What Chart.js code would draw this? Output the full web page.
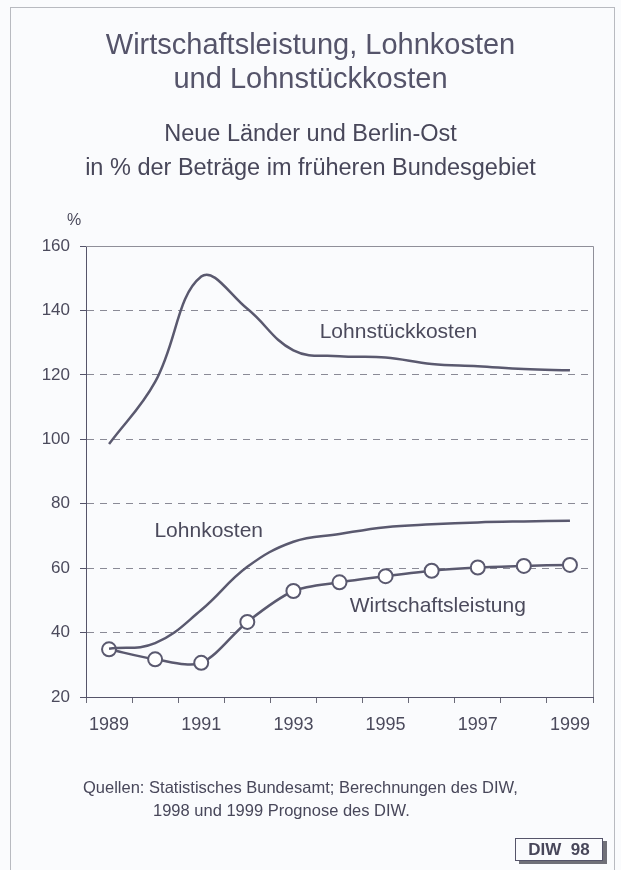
<!DOCTYPE html>
<html lang="de">
<head>
<meta charset="utf-8">
<title>Wirtschaftsleistung, Lohnkosten und Lohnstückkosten</title>
<script src="https://cdn.jsdelivr.net/npm/chart.js@4.4.1/dist/chart.umd.min.js"></script>
<style>
  html, body { margin: 0; padding: 0; background: #fafbfd; }
  body {
    width: 621px; height: 870px; position: relative; overflow: hidden;
    font-family: "Liberation Sans", Arial, sans-serif; color: #4b4a5c;
  }
  #frame { position: absolute; left: 10px; top: 7px; width: 603px; height: 900px; border: 1px solid #b8bac0; }
  #chart { position: absolute; left: 0; top: 0; }
  .t { position: absolute; left: 0; width: 621px; text-align: center; white-space: nowrap; }
  #title { top: 27px; font-size: 29px; line-height: 34px; color: #55546a; }
  #subtitle { top: 116px; font-size: 23.5px; line-height: 34px; color: #48475a; }
  .src { position: absolute; font-size: 16.5px; line-height: 22px; white-space: nowrap; color: #48475a; }
  #diw {
    position: absolute; left: 515px; top: 838px; width: 86px; height: 21px;
    border: 1px solid #55546a; background: #fafbfd; box-shadow: 4px 3px 0 #707078;
    font-weight: bold; font-size: 17px; line-height: 21px; text-align: center; color: #48475a;
  }
</style>
</head>
<body>
<div id="frame"></div>
<canvas id="chart" width="621" height="870"></canvas>
<div class="t" id="title">Wirtschaftsleistung, Lohnkosten<br>und Lohnstückkosten</div>
<div class="t" id="subtitle">Neue Länder und Berlin-Ost<br>in % der Beträge im früheren Bundesgebiet</div>
<div class="src" style="left:83px; top:776px;">Quellen: Statistisches Bundesamt; Berechnungen des DIW,</div>
<div class="src" style="left:153px; top:799px;">1998 und 1999 Prognose des DIW.</div>
<div id="diw">DIW&nbsp;&nbsp;98</div>
<script>
  const years = ["1989", "1990", "1991", "1992", "1993", "1994", "1995", "1996", "1997", "1998", "1999"];
  const yMin = 20;
  const yMax = 160;
  const yStep = 20;

  const lohnstueckkosten = [98.5, 117.8, 150.5, 140.5, 127.6, 125.8, 125.4, 123.4, 122.7, 121.8, 121.4];
  const lohnkosten = [35.0, 36.7, 47.0, 60.4, 68.2, 70.6, 72.7, 73.6, 74.2, 74.5, 74.7];
  const wirtschaftsleistung = [34.8, 31.7, 30.6, 43.3, 52.9, 55.6, 57.5, 59.2, 60.2, 60.7, 61.0];

  const ink = "#5a596f";
  const textInk = "#4b4a5c";
  const font = '"Liberation Sans", Arial, sans-serif';

  // line labels placed in data units (category index, value)
  const seriesNotes = [
    { text: "Lohnstückkosten", x: 4.57, y: 133.2 },
    { text: "Lohnkosten", x: 0.985, y: 71.5 },
    { text: "Wirtschaftsleistung", x: 5.22, y: 48.2 }
  ];

  const decorations = {
    id: "decorations",
    afterDraw(chart) {
      const { ctx, chartArea: a, scales: { x, y } } = chart;
      ctx.save();
      // top and right frame of the plot
      ctx.strokeStyle = "#8f8f99";
      ctx.lineWidth = 1;
      ctx.beginPath();
      ctx.moveTo(a.left, a.top + 0.5);
      ctx.lineTo(a.right + 0.5, a.top + 0.5);
      ctx.lineTo(a.right + 0.5, a.bottom);
      ctx.stroke();

      ctx.fillStyle = textInk;
      ctx.font = "21px " + font;
      ctx.textBaseline = "middle";
      ctx.textAlign = "left";
      seriesNotes.forEach((n) => {
        ctx.fillText(n.text, x.getPixelForValue(n.x), y.getPixelForValue(n.y));
      });

      ctx.font = "16px " + font;
      ctx.textAlign = "center";
      ctx.fillText("%", a.left - 12, a.top - 25);
      ctx.restore();
    }
  };

  new Chart(document.getElementById("chart"), {
    type: "line",
    data: {
      labels: years,
      datasets: [
        {
          label: "Lohnstückkosten",
          data: lohnstueckkosten,
          borderColor: ink,
          borderWidth: 2.5,
          tension: 0.4,
          pointRadius: 0
        },
        {
          label: "Lohnkosten",
          data: lohnkosten,
          borderColor: ink,
          borderWidth: 2.5,
          tension: 0.4,
          pointRadius: 0
        },
        {
          label: "Wirtschaftsleistung",
          data: wirtschaftsleistung,
          borderColor: ink,
          borderWidth: 2.5,
          tension: 0.3,
          pointRadius: 7,
          pointBorderWidth: 2,
          pointBorderColor: ink,
          pointBackgroundColor: "#ffffff"
        }
      ]
    },
    options: {
      responsive: false,
      animation: false,
      events: [],
      layout: { padding: { left: 0, right: 28, top: 246, bottom: 130 } },
      plugins: { legend: { display: false }, tooltip: { enabled: false } },
      scales: {
        x: {
          offset: true,
          afterFit: (s) => { s.height = 43; },
          grid: {
            offset: true,
            drawOnChartArea: false,
            tickLength: 6,
            tickColor: "#6a6a78",
            tickBorderDash: []
          },
          border: { color: "#55546a", width: 1 },
          ticks: {
            color: textInk,
            font: { family: font, size: 18 },
            padding: 11,
            autoSkip: false,
            maxRotation: 0,
            callback: (v, i) => (i % 2 === 0 ? years[i] : "")
          }
        },
        y: {
          min: yMin,
          max: yMax,
          afterFit: (s) => { s.width = 86; },
          grid: {
            color: (c) => (c.tick && (c.tick.value === yMax || c.tick.value === yMin) ? "rgba(0,0,0,0)" : "#8a8a96"),
            tickLength: 6,
            tickColor: "#55546a",
            tickBorderDash: []
          },
          border: { color: "#55546a", width: 1, dash: [7, 6] },
          ticks: {
            stepSize: yStep,
            color: textInk,
            font: { family: font, size: 17 },
            padding: 10
          }
        }
      }
    },
    plugins: [decorations]
  });
</script>
</body>
</html>
